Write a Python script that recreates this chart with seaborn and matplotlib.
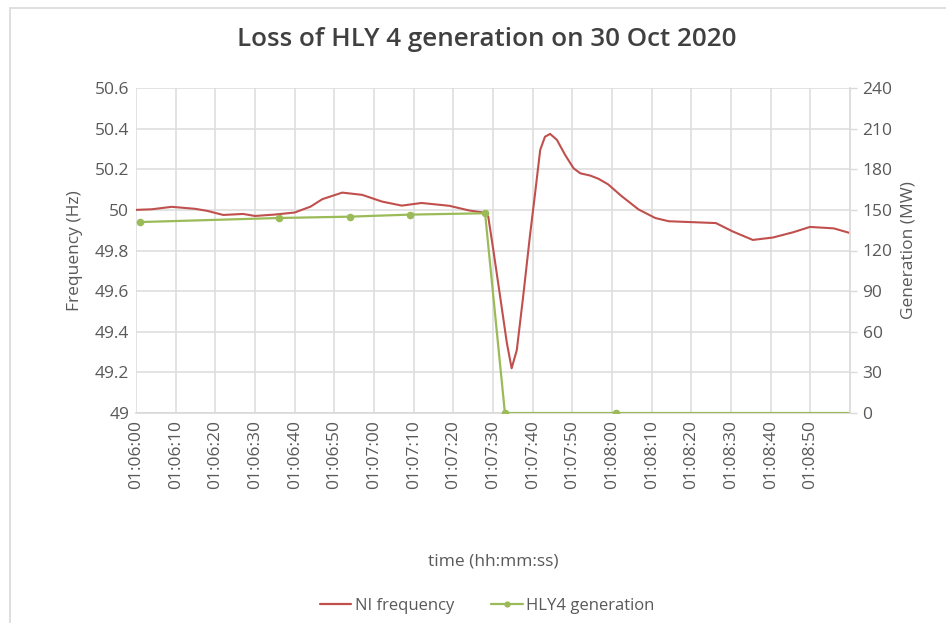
import numpy as np
import pandas as pd
import matplotlib
matplotlib.use("Agg")
import matplotlib.pyplot as plt
import seaborn as sns
from matplotlib.patches import Rectangle
from matplotlib.lines import Line2D

# seconds after 01:06:00
freq_t = [0, 4, 9, 15, 18, 22, 27, 30, 35, 40, 44, 47, 52, 57, 62, 67, 72, 79, 84, 87.6,
          88.8, 90.1, 91.8, 93.5, 94.7, 96.0, 97.6, 99.3, 100.6, 101.9, 103.1, 104.4, 106.1,
          108.2, 110.3, 112.0, 114.5, 116.6, 119, 122.4, 126.7, 130.9, 134.3, 146.2, 150.4,
          155.5, 160.6, 165.7, 169.9, 175.9, 180]
freq_hz = [50.0, 50.003, 50.015, 50.005, 49.995, 49.975, 49.98, 49.97, 49.977, 49.987,
           50.016, 50.053, 50.085, 50.074, 50.041, 50.021, 50.034, 50.02, 49.997, 49.987,
           49.967, 49.80, 49.573, 49.344, 49.22, 49.31, 49.573, 49.87, 50.08, 50.295,
           50.36, 50.374, 50.345, 50.27, 50.205, 50.18, 50.169, 50.153, 50.126, 50.068,
           50.002, 49.96, 49.944, 49.935, 49.894, 49.852, 49.864, 49.89, 49.916, 49.909,
           49.886]

gen_t = [1, 36, 54, 69, 88, 93, 121, 180]
gen_mw = [141, 144, 145, 146.5, 147.5, 0, 0, 0]

tick_sec = list(range(0, 180, 10))
tick_labels = ["01:%02d:%02d" % (6 + s // 60, s % 60) for s in tick_sec]

red = "#C0504D"
green = "#9BBB59"
grey = "#595959"

sns.set_theme(style="white")
plt.rcParams["font.family"] = ["Open Sans", "DejaVu Sans"]

fig = plt.figure(figsize=(9.46, 6.23), dpi=100)
ax = fig.add_axes([136 / 946, 1 - 413 / 623, 714 / 946, 325 / 623])
ax2 = ax.twinx()

df_f = pd.DataFrame({"t": freq_t, "f": freq_hz})
df_g = pd.DataFrame({"t": gen_t, "g": gen_mw})
sns.lineplot(data=df_f, x="t", y="f", ax=ax, color=red, lw=1.5, zorder=3)
sns.lineplot(data=df_g, x="t", y="g", ax=ax2, color=green, lw=1.6,
             marker="o", markersize=5.5, markeredgewidth=0,
             markevery=list(range(len(gen_t) - 1)))

ax.set_xlim(0, 180)
ax.set_ylim(49, 50.6)
ax.set_yticks(np.arange(49, 50.61, 0.2))
ax.set_yticklabels(["49", "49.2", "49.4", "49.6", "49.8", "50", "50.2", "50.4", "50.6"])
ax2.set_ylim(0, 240)
ax2.set_yticks(range(0, 241, 30))
ax.set_xticks(tick_sec)
ax.set_xticklabels(tick_labels, rotation=90)

ax.grid(True, color="#DEDEDE", lw=1.2)
ax2.grid(False)
for a in (ax, ax2):
    for s in a.spines.values():
        s.set_visible(False)
ax2.spines["right"].set_visible(True)
ax2.spines["right"].set_color("#D9D9D9")
ax.spines["bottom"].set_visible(True)
ax.spines["bottom"].set_color("#D9D9D9")
ax.tick_params(axis="both", colors=grey, labelsize=12.5, length=0, pad=5)
ax2.tick_params(axis="y", colors="#D9D9D9", labelcolor=grey, labelsize=12.5,
                length=5, width=1, direction="out", pad=4, right=True)

ax.set_xlabel("time (hh:mm:ss)", color=grey, fontsize=12.5)
ax.set_ylabel("Frequency (Hz)", color=grey, fontsize=12.5, labelpad=8)
ax2.set_ylabel("Generation (MW)", color=grey, fontsize=12.5, labelpad=6)
ax.xaxis.set_label_coords(0.5, -(553 - 413) / 325)

fig.text(487 / 946, 1 - 40 / 623, "Loss of HLY 4 generation on 30 Oct 2020",
         ha="center", va="center", fontsize=18.7, fontweight="semibold", color="#404040")

handles = [Line2D([], [], color=red, lw=1.6),
           Line2D([], [], color=green, lw=1.6, marker="o", markersize=4.5, markeredgewidth=0)]
fig.legend(handles, ["NI frequency", "HLY4 generation"], loc="center",
           bbox_to_anchor=(487 / 946, 1 - 606 / 623), ncol=2, frameon=False,
           fontsize=12, labelcolor=grey, handlelength=1.9, handletextpad=0.2,
           columnspacing=2.2)

fig.patches.append(Rectangle((10 / 946, -0.1), 1.2, 1 - 8 / 623 + 0.1,
                             transform=fig.transFigure, fill=False,
                             edgecolor="#D9D9D9", lw=1.2))

fig.savefig("out.png", dpi=100)
